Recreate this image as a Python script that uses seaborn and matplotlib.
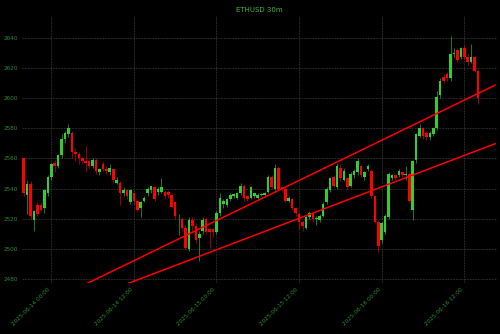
import matplotlib
matplotlib.use("Agg")
import matplotlib.pyplot as plt
import matplotlib.dates as mdates
import numpy as np
import pandas as pd
import seaborn as sns

title = "ETHUSD 30m"
start_time = "2025-06-13 20:00"

opens = [2560, 2536, 2543, 2519, 2529, 2529, 2527, 2537, 2548, 2557,
         2555, 2562, 2573, 2576, 2577, 2564, 2563, 2560, 2558, 2558,
         2555, 2559, 2551, 2556, 2553, 2551, 2553, 2544, 2544, 2537,
         2539, 2531, 2537, 2532, 2527, 2532, 2537, 2539, 2541, 2538,
         2538, 2538, 2538, 2536, 2531, 2521, 2520, 2514, 2500, 2519,
         2515, 2507, 2512, 2520, 2513, 2513, 2511, 2524, 2530, 2529,
         2533, 2535, 2534, 2537, 2542, 2535, 2534, 2535, 2534, 2536,
         2536, 2538, 2548, 2540, 2554, 2541, 2540, 2532, 2533, 2527,
         2523, 2518, 2514, 2521, 2523, 2520, 2519, 2522, 2531, 2539,
         2548, 2541, 2554, 2546, 2547, 2542, 2549, 2551, 2555, 2548,
         2553, 2552, 2535, 2518, 2506, 2511, 2521, 2547, 2549, 2549,
         2551, 2549, 2550, 2526, 2559, 2575, 2580, 2577, 2574, 2576,
         2580, 2602, 2614, 2616, 2613, 2629, 2632, 2627, 2633, 2627,
         2624, 2627, 2618]
highs = [2561, 2546, 2545, 2526, 2531, 2531, 2540, 2549, 2557, 2559,
         2563, 2576, 2578, 2583, 2578, 2567, 2564, 2561, 2568, 2559,
         2560, 2560, 2554, 2558, 2555, 2556, 2554, 2548, 2545, 2541,
         2540, 2540, 2538, 2533, 2532, 2535, 2541, 2542, 2542, 2541,
         2547, 2539, 2539, 2537, 2532, 2523, 2521, 2516, 2521, 2521,
         2517, 2512, 2521, 2521, 2514, 2514, 2525, 2537, 2533, 2534,
         2537, 2537, 2538, 2544, 2543, 2536, 2542, 2538, 2537, 2537,
         2538, 2549, 2549, 2556, 2555, 2542, 2541, 2535, 2534, 2528,
         2524, 2519, 2522, 2525, 2524, 2522, 2523, 2531, 2541, 2548,
         2549, 2557, 2556, 2554, 2548, 2551, 2553, 2560, 2556, 2552,
         2556, 2553, 2536, 2519, 2518, 2523, 2551, 2550, 2550, 2553,
         2552, 2555, 2551, 2559, 2577, 2583, 2581, 2578, 2578, 2581,
         2605, 2613, 2616, 2617, 2641, 2633, 2633, 2634, 2635, 2629,
         2636, 2628, 2619]
lows = [2535, 2523, 2520, 2512, 2522, 2525, 2524, 2535, 2546, 2551,
        2554, 2560, 2570, 2574, 2560, 2558, 2556, 2556, 2552, 2554,
        2554, 2550, 2549, 2552, 2550, 2549, 2544, 2543, 2529, 2535,
        2533, 2530, 2530, 2525, 2521, 2531, 2535, 2537, 2532, 2536,
        2537, 2534, 2534, 2527, 2520, 2509, 2512, 2500, 2499, 2512,
        2504, 2492, 2510, 2510, 2501, 2508, 2510, 2522, 2527, 2528,
        2532, 2534, 2533, 2536, 2532, 2532, 2533, 2534, 2533, 2535,
        2535, 2537, 2540, 2539, 2539, 2538, 2531, 2531, 2526, 2522,
        2513, 2512, 2513, 2520, 2518, 2516, 2518, 2521, 2530, 2538,
        2541, 2540, 2545, 2545, 2540, 2541, 2547, 2549, 2548, 2546,
        2552, 2534, 2517, 2498, 2504, 2510, 2520, 2546, 2546, 2548,
        2548, 2546, 2531, 2519, 2557, 2574, 2573, 2572, 2572, 2575,
        2579, 2600, 2610, 2611, 2611, 2627, 2624, 2626, 2626, 2622,
        2623, 2617, 2596]
closes = [2537, 2543, 2522, 2525, 2523, 2526, 2539, 2548, 2556, 2555,
          2562, 2573, 2577, 2580, 2564, 2563, 2560, 2558, 2557, 2555,
          2559, 2552, 2553, 2553, 2552, 2554, 2546, 2546, 2537, 2539,
          2535, 2539, 2532, 2526, 2531, 2534, 2540, 2542, 2533, 2540,
          2541, 2535, 2536, 2528, 2522, 2521.5, 2514, 2501, 2519, 2515,
          2506, 2510, 2519, 2511, 2511, 2511, 2524, 2534, 2532, 2533,
          2536, 2536.5, 2537, 2542, 2534, 2533, 2541, 2537, 2536, 2536.5,
          2537, 2548, 2541, 2554, 2540, 2540, 2532, 2534, 2527, 2524,
          2518, 2515, 2521, 2524, 2520, 2520.5, 2522, 2530, 2540, 2547,
          2542, 2555, 2547, 2552, 2541, 2550, 2552, 2558, 2549, 2551,
          2555, 2535, 2518, 2502, 2517, 2522, 2550, 2549, 2547, 2552,
          2549, 2549.5, 2532, 2558, 2576, 2580, 2575, 2574, 2577, 2580,
          2601, 2611, 2611, 2613, 2629, 2630, 2625, 2633, 2627, 2624,
          2627, 2618, 2600]

trend_times = ["2025-06-13 20:00", "2025-06-16 16:30"]
upper_trend = [2456.8, 2608.6]
lower_trend = [2450.9, 2569.8]

y_ticks = [2480, 2500, 2520, 2540, 2560, 2580, 2600, 2620, 2640]

sns.set_theme(style="dark")
plt.rcParams["font.family"] = ["DejaVu Sans"]

times = pd.date_range(start_time, periods=len(opens), freq="30min")
df = pd.DataFrame({"time": times, "open": opens, "high": highs,
                   "low": lows, "close": closes})
df["x"] = mdates.date2num(df["time"])
df["up"] = df["close"] >= df["open"]
df["color"] = np.where(df["up"], "#32cd32", "#ff0000")
df["bottom"] = df[["open", "close"]].min(axis=1)
df["height"] = (df["close"] - df["open"]).abs().clip(lower=0.35)

trend = pd.DataFrame({
    "x": mdates.date2num(pd.to_datetime(trend_times * 2)),
    "price": upper_trend + lower_trend,
    "line": ["upper", "upper", "lower", "lower"],
})

dpi = 500 / 12
fig = plt.figure(figsize=(12, 334 / dpi), dpi=dpi, facecolor="black")
ax = fig.add_axes([0.044, 0.1527, 0.95, 0.8023])
ax.set_facecolor("black")

ax.vlines(df["x"], df["low"], df["high"], colors=df["color"], linewidth=1.0, zorder=2)
ax.bar(df["x"], df["height"], bottom=df["bottom"], width=0.75 / 48,
       color=df["color"], linewidth=0, zorder=3)

sns.lineplot(data=trend, x="x", y="price", units="line", estimator=None,
             color="#ff0000", linewidth=2.6, ax=ax, zorder=4, legend=False)

x0 = mdates.date2num(pd.Timestamp("2025-06-13 19:45"))
x1 = mdates.date2num(pd.Timestamp("2025-06-16 16:45"))
ax.set_xlim(x0, x1)
ax.set_ylim(2477.5, 2655)
ax.set_yticks(y_ticks)
ax.xaxis.set_major_locator(mdates.HourLocator(byhour=[0, 12]))
ax.xaxis.set_major_formatter(mdates.DateFormatter("%Y-%m-%d %H:%M"))
plt.setp(ax.get_xticklabels(), rotation=45, ha="right")

ax.grid(True, color="#4a4a4a", linestyle="--", linewidth=0.9)
ax.tick_params(axis="both", colors="#2e8b2e", labelsize=10, length=3.5,
               labelcolor="#2e8b2e")
ax.tick_params(axis="both", color="#555555")
for s in ax.spines.values():
    s.set_visible(False)
ax.set_xlabel("")
ax.set_ylabel("")
ax.set_title(title, color="#3cb83c", fontsize=12, pad=6)

fig.savefig("out.png", dpi=dpi, facecolor="black")
